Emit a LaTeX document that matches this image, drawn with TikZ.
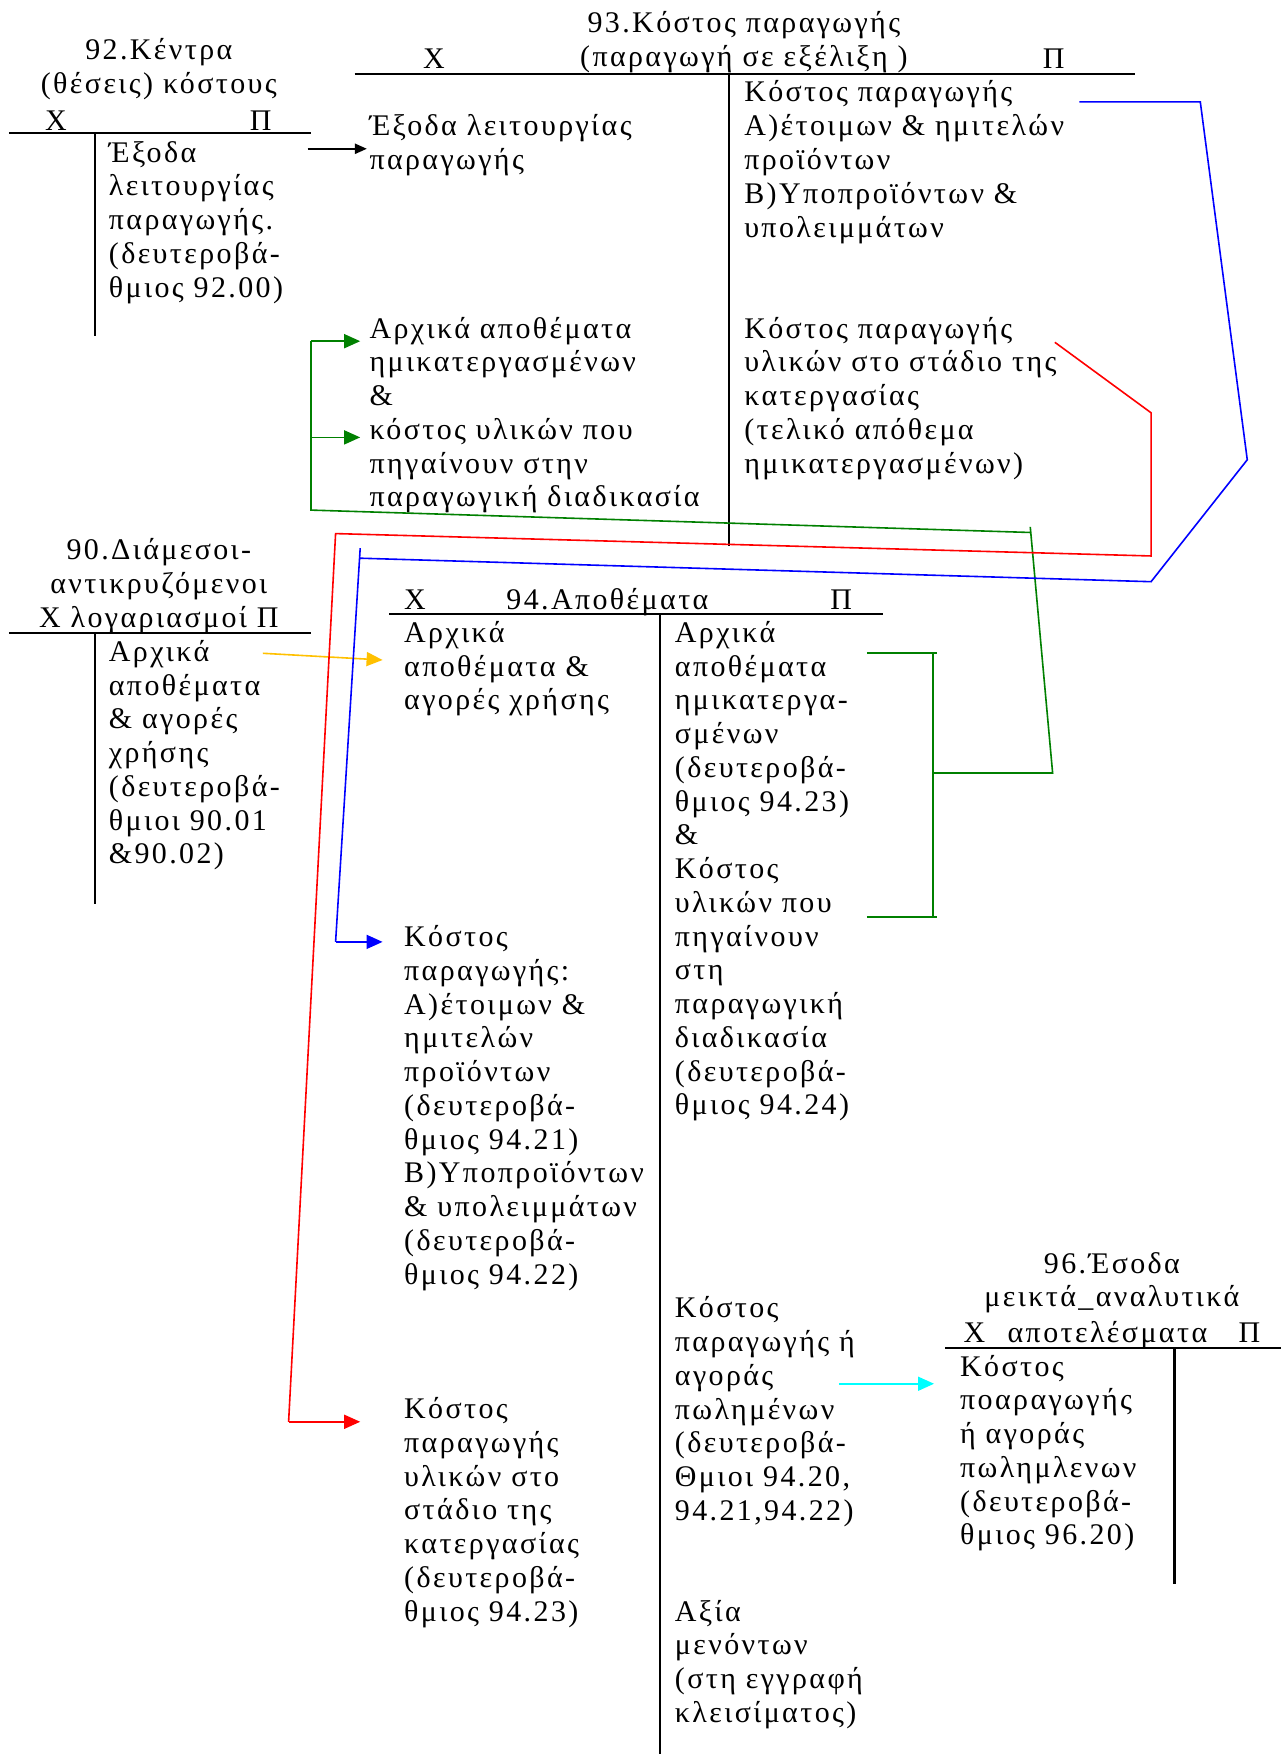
\documentclass[tikz,border=0pt]{standalone}
\usepackage{fontspec}
\setmainfont{Liberation Serif}[LetterSpace=8]
\usetikzlibrary{arrows.meta,positioning}
\definecolor{grn}{RGB}{0,128,0}
\definecolor{ylw}{RGB}{255,192,0}
\definecolor{cyn}{RGB}{0,255,255}
\begin{document}
\begin{tikzpicture}[x=0.56pt,y=-0.56pt,
  txt/.style={anchor=north west,yshift=9pt,inner sep=0pt,align=left,
    font=\fontsize{15}{16.9}\selectfont,execute at begin node=\strut},
  ttl/.style={txt,anchor=north,align=center},
  tline/.style={line width=1.1pt},
  link/.style={line width=0.8pt},
  tip/.style={-{Triangle[length=8pt,width=7pt]}}]
\useasboundingbox (0,0) rectangle (1147,1568);
% account 92
\node[ttl] (h92) at (142,50) {92.Κέντρα\\(θέσεις) κόστους};
\node[ttl] (x92) at (50,111) {Χ};
\node[ttl] (p92) at (233,111) {Π};
\draw[tline] (8,119) -- (278,119) (85,119) -- (85,300);
\node[txt] (c92) at (97,142) {Έξοδα\\λειτουργίας\\παραγωγής.\\(δευτεροβά-\\θμιος 92.00)};
% account 93
\node[ttl] (h93) at (665,26) {93.Κόστος παραγωγής\\(παραγωγή σε εξέλιξη )};
\node[ttl] (x93) at (388,56) {Χ};
\node[ttl] (p93) at (942,56) {Π};
\draw[tline] (317,66) -- (1015,66) (652,66) -- (652,488);
\node[txt] (d93a) at (330,118) {Έξοδα λειτουργίας\\παραγωγής};
\node[txt] (d93b) at (330,299) {Αρχικά αποθέματα\\ημικατεργασμένων\\\&\\κόστος υλικών που\\πηγαίνουν στην\\παραγωγική διαδικασία};
\node[txt] (c93a) at (665,88) {Κόστος παραγωγής\\Α)έτοιμων \& ημιτελών\\προϊόντων\\Β)Υποπροϊόντων \&\\υπολειμμάτων};
\node[txt] (c93b) at (665,299) {Κόστος παραγωγής\\υλικών στο στάδιο της\\κατεργασίας\\(τελικό απόθεμα\\ημικατεργασμένων)};
% account 90
\node[ttl] (h90) at (142,497) {90.Διάμεσοι-\\αντικρυζόμενοι\\Χ λογαριασμοί Π};
\draw[tline] (8,566) -- (278,566) (85,566) -- (85,808);
\node[txt] (c90) at (97,588) {Αρχικά\\αποθέματα\\\& αγορές\\χρήσης\\(δευτεροβά-\\θμιοι 90.01\\\&90.02)};
% account 94
\node[ttl] (x94) at (371,539) {Χ};
\node[ttl] (h94) at (543,539) {94.Αποθέματα};
\node[ttl] (p94) at (752,539) {Π};
\draw[tline] (348,549) -- (789,549) (590,549) -- (590,1568);
\node[txt] (d94a) at (361,571) {Αρχικά\\αποθέματα \&\\αγορές χρήσης};
\node[txt] (d94b) at (361,843) {Κόστος\\παραγωγής:\\Α)έτοιμων \&\\ημιτελών\\προϊόντων\\(δευτεροβά-\\θμιος 94.21)\\Β)Υποπροϊόντων\\\& υπολειμμάτων\\(δευτεροβά-\\θμιος 94.22)};
\node[txt] (d94c) at (361,1265) {Κόστος\\παραγωγής\\υλικών στο\\στάδιο της\\κατεργασίας\\(δευτεροβά-\\θμιος 94.23)};
\node[txt] (c94a) at (603,571) {Αρχικά\\αποθέματα\\ημικατεργα-\\σμένων\\(δευτεροβά-\\θμιος 94.23)\\\&\\Κόστος\\υλικών που\\πηγαίνουν\\στη\\παραγωγική\\διαδικασία\\(δευτεροβά-\\θμιος 94.24)};
\node[txt] (c94b) at (603,1175) {Κόστος\\παραγωγής ή\\αγοράς\\πωλημένων\\(δευτεροβά-\\Θμιοι 94.20,\\94.21,94.22)};
\node[txt] (c94c) at (603,1446) {Αξία\\μενόντων\\(στη εγγραφή\\κλεισίματος)};
% account 96
\node[ttl] (h96) at (994,1135) {96.Έσοδα\\μεικτά\_αναλυτικά};
\node[ttl] (x96) at (871,1195) {Χ};
\node[ttl] (a96) at (990,1195) {αποτελέσματα};
\node[ttl] (p96) at (1117,1195) {Π};
\draw[tline] (845,1205) -- (1145,1205) (1050,1205) -- (1050,1416);
\node[txt] (d96) at (858,1227) {Κόστος\\ποαραγωγής\\ή αγοράς\\πωλημλενων\\(δευτεροβά-\\θμιος 96.20)};
% links
\coordinate (k1) at (275,133);
\coordinate (k2) at (328,133);
\draw[tline,-{Triangle[length=6pt,width=5pt]}] (k1) -- (k2);
\coordinate (y1) at (235,584);
\coordinate (y2) at (342,590);
\draw[link,ylw,tip] (y1) -- (y2);
\coordinate (q1) at (750,1237);
\coordinate (q2) at (835,1237);
\draw[link,cyn,tip] (q1) -- (q2);
\coordinate (g1) at (834,691);
\coordinate (g2) at (941,691);
\coordinate (g3) at (921,471);
\coordinate (g4) at (921,476);
\coordinate (g5) at (278,456);
\coordinate (g6) at (278,305);
\coordinate (g7) at (322,305);
\coordinate (g8) at (278,391);
\coordinate (g9) at (322,391);
\draw[link,grn] (775,584) -- (838,584) (834,584) -- (834,820) (775,820) -- (838,820);
\draw[link,grn] (g1) -- (g2) -- (g3) (g4) -- (g5) -- (g6);
\draw[link,grn,tip] (g6) -- (g7);
\draw[link,grn,tip] (g8) -- (g9);
\coordinate (r1) at (943,306);
\coordinate (r2) at (1029,369);
\coordinate (r3) at (1029,497);
\coordinate (r4) at (300,477);
\coordinate (r5) at (258,1271);
\coordinate (r6) at (322,1271);
\draw[link,red] (r1) -- (r2) -- (r3) -- (r4) -- (r5);
\draw[link,red,tip] (r5) -- (r6);
\coordinate (b1) at (965,91);
\coordinate (b2) at (1073,91);
\coordinate (b3) at (1115,411);
\coordinate (b4) at (1029,520);
\coordinate (b5) at (322,499);
\coordinate (b6) at (322,490);
\coordinate (b7) at (300,842);
\coordinate (b8) at (342,842);
\draw[link,blue] (b1) -- (b2) -- (b3) -- (b4) -- (b5) (b6) -- (b7);
\draw[link,blue,tip] (b7) -- (b8);
\end{tikzpicture}
\end{document}
